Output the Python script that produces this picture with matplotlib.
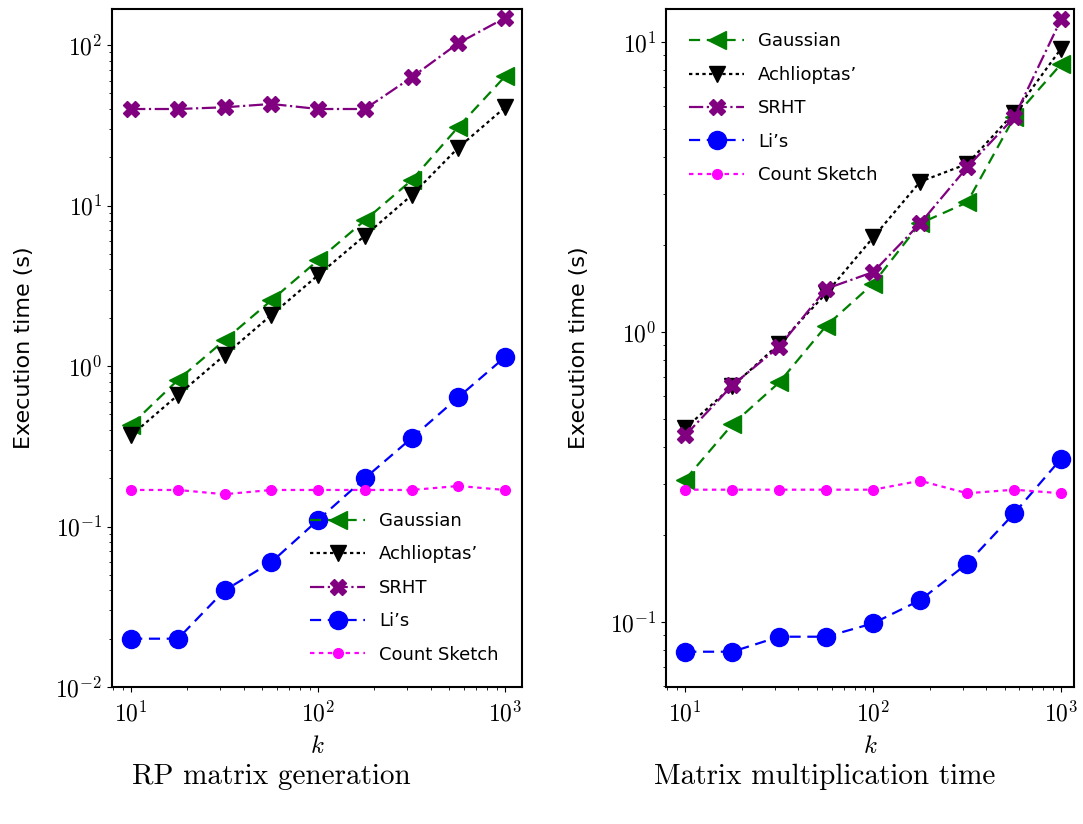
import numpy as np
import matplotlib
matplotlib.use("Agg")
import matplotlib.pyplot as plt
from matplotlib.ticker import FuncFormatter, LogLocator, NullFormatter

plt.rcParams['mathtext.fontset'] = 'cm'
plt.rcParams['font.family'] = 'DejaVu Sans'

k = [10, 17.8, 31.6, 56.2, 100, 177.8, 316.2, 562.3, 1000]

labels = ["Gaussian", "Achlioptas\u2019", "SRHT", "Li\u2019s", "Count Sketch"]

# RP matrix generation times (s)
gen_gaussian = [0.43, 0.82, 1.45, 2.57, 4.57, 8.1, 14.4, 31, 64]
gen_achlioptas = [0.37, 0.66, 1.17, 2.08, 3.69, 6.5, 11.6, 23, 41]
gen_srht = [40, 40, 41, 43, 40, 40, 63, 103, 148]
gen_lis = [0.020, 0.020, 0.040, 0.060, 0.11, 0.20, 0.356, 0.64, 1.14]
gen_count = [0.169, 0.169, 0.159, 0.169, 0.169, 0.169, 0.169, 0.179, 0.169]

# Matrix multiplication times (s)
mul_gaussian = [0.31, 0.48, 0.67, 1.05, 1.47, 2.37, 2.8, 5.5, 8.4]
mul_achlioptas = [0.466, 0.65, 0.91, 1.36, 2.12, 3.3, 3.8, 5.7, 9.5]
mul_srht = [0.44, 0.655, 0.89, 1.41, 1.61, 2.37, 3.7, 5.5, 12]
mul_lis = [0.079, 0.079, 0.089, 0.089, 0.099, 0.119, 0.159, 0.237, 0.366]
mul_count = [0.286, 0.286, 0.286, 0.286, 0.286, 0.307, 0.278, 0.286, 0.278]

styles = [
    dict(color='green', linestyle=(0, (5, 3)), marker='<', markersize=13),
    dict(color='black', linestyle=(0, (1.5, 1.5)), marker='v', markersize=12),
    dict(color='purple', linestyle='-.', marker='X', markersize=12),
    dict(color='blue', linestyle=(0, (5, 3)), marker='o', markersize=13),
    dict(color='magenta', linestyle=(0, (2, 2)), marker='o', markersize=7),
]

fig = plt.figure(figsize=(10.83, 8.24), dpi=100)
ax1 = fig.add_axes([112 / 1083, 1 - 687 / 824, 410 / 1083, 678 / 824])
ax2 = fig.add_axes([666 / 1083, 1 - 687 / 824, 408 / 1083, 678 / 824])

gen = [gen_gaussian, gen_achlioptas, gen_srht, gen_lis, gen_count]
mul = [mul_gaussian, mul_achlioptas, mul_srht, mul_lis, mul_count]

decade = FuncFormatter(lambda v, pos: r'$10^{%d}$' % round(np.log10(v)))

for ax, series in [(ax1, gen), (ax2, mul)]:
    for y, lab, st in zip(series, labels, styles):
        ax.plot(k, y, label=lab, linewidth=1.6, **st)
    ax.set_xscale('log')
    ax.set_yscale('log')
    ax.set_xlim(7.9, 1230)
    ax.xaxis.set_major_locator(LogLocator(base=10))
    ax.yaxis.set_major_locator(LogLocator(base=10))
    ax.xaxis.set_major_formatter(decade)
    ax.yaxis.set_major_formatter(decade)
    ax.xaxis.set_minor_formatter(NullFormatter())
    ax.yaxis.set_minor_formatter(NullFormatter())
    ax.set_xlabel('$k$', fontsize=18, labelpad=5)
    ax.set_ylabel('Execution time (s)', fontsize=16, labelpad=15)
    ax.tick_params(labelsize=17)
    ax.tick_params(axis='x', which='major', pad=7)
    for s in ax.spines.values():
        s.set_linewidth(1.5)

ax1.set_ylim(0.01, 168)
ax2.set_ylim(0.0597, 13)
ax2.set_xlim(7.9, 1170)

ax1.legend(loc='lower right', frameon=False, fontsize=13, handlelength=3,
           labelspacing=0.85, borderaxespad=0.9)
ax2.legend(loc='upper left', frameon=False, fontsize=13, handlelength=3,
           labelspacing=0.85, borderaxespad=0.9)

fig.text(271 / 1083, 1 - 777 / 824, 'RP matrix generation', family='cmr10',
         fontsize=21, ha='center', va='center')
fig.text(825 / 1083, 1 - 777 / 824, 'Matrix multiplication time', family='cmr10',
         fontsize=21, ha='center', va='center')

fig.savefig('out.png', dpi=100)
